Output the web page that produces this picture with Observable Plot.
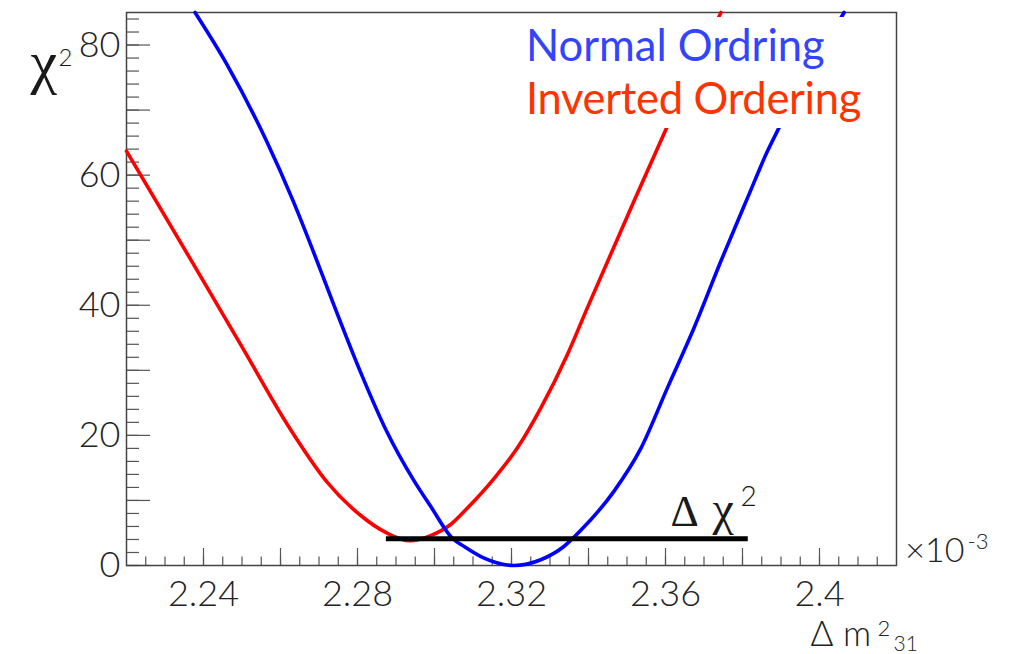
<!DOCTYPE html>
<html>
<head>
<meta charset="utf-8">
<script src="https://cdn.jsdelivr.net/npm/d3@7"></script>
<script src="https://cdn.jsdelivr.net/npm/@observablehq/plot@0.6"></script>
<style>
  body { margin: 0; background: #fff; }
  #chart { position: relative; width: 1010px; height: 654px; }
  #legend {
    position: absolute; left: 515px; top: 17px; width: 355px; height: 111px;
    background: #fff; font-family: Lato, "Open Sans", sans-serif; font-size: 43.5px; line-height: 1;
  }
  #legend div { position: absolute; left: 11px; white-space: nowrap; }
</style>
</head>
<body>
<div id="chart"><div id="legend">
  <div style="top:6.4px;color:#3344ff">Normal Ordring</div>
  <div style="top:59.4px;color:#ff3300;letter-spacing:-0.3px">Inverted Ordering</div>
</div></div>
<script>
// Δm²31 scan (in units of 1e-3 eV²) and χ² for each mass ordering
const noDm2 = [2.2378, 2.2460, 2.2564, 2.2633, 2.2685, 2.2735, 2.2806, 2.2876, 2.2945, 2.2990,
               2.3047, 2.3077, 2.3129, 2.3206, 2.3276, 2.3336, 2.3380, 2.3466, 2.3536, 2.3605,
               2.3674, 2.3744, 2.3813, 2.3865, 2.3895, 2.4064];
const noChi2 = [85, 77.1, 65.2, 56, 48.3, 40.6, 30.0, 20.6, 13.2, 9.1,
                4.15, 2.92, 1.12, 0, 0.88, 2.92, 5.4, 11.4, 18.0, 27.3,
                36.5, 46.8, 56.5, 63.7, 67.3, 85];

const ioDm2 = [2.2200, 2.2373, 2.2500, 2.2624, 2.2720, 2.2806, 2.2876, 2.2936, 2.2990, 2.3042,
               2.3085, 2.3155, 2.3215, 2.3276, 2.3345, 2.3397, 2.3518, 2.3601, 2.3744];
const ioChi2 = [63.7, 46.4, 33.6, 21.1, 12.9, 7.8, 5.0, 3.8, 4.6, 6.3,
                8.8, 13.4, 18.05, 24.2, 32.4, 39.6, 56, 67, 85];

// Δχ² between the two orderings, drawn as a horizontal bar
const barDm2 = [2.2875, 2.3815];
const barChi2 = 4.1;

// Axis ticks
const xLabelTicks = [2.24, 2.28, 2.32, 2.36, 2.40];
const xLongTicks = [2.24, 2.26, 2.28, 2.30, 2.32, 2.34, 2.36, 2.38, 2.40];
const xShortTicks = d3.range(2.225, 2.42, 0.005).map(v => +v.toFixed(3));
const yLabelTicks = [0, 20, 40, 60, 80];
const yLongTicks = [0, 10, 20, 30, 40, 50, 60, 70, 80];
const yShortTicks = d3.range(0, 85, 2);

const W = 1010, H = 654;
const mL = 126, mR = 114, mT = 12, mB = 89;
const plotW = W - mL - mR, plotH = H - mT - mB;

const sans = "Lato, 'Open Sans', sans-serif";
const serif = "'Liberation Serif', 'DejaVu Serif', serif";

const no = noDm2.map((x, i) => ({x, y: noChi2[i]}));
const io = ioDm2.map((x, i) => ({x, y: ioChi2[i]}));

// small helper for free-standing labels placed relative to the frame's top-left corner
const label = (s, dx, dy, o) => Plot.text([s], {text: d => d, frameAnchor: "top-left", dx, dy,
  lineAnchor: "bottom", textAnchor: "start", fill: "#1a1a1a", ...o});

const chart = Plot.plot({
  width: W, height: H,
  marginLeft: mL, marginRight: mR, marginTop: mT, marginBottom: mB,
  style: {fontFamily: sans, background: "#fff", color: "#222"},
  x: {domain: [2.22, 2.42], axis: null},
  y: {domain: [0, 85], axis: null},
  marks: [
    // inward ticks on the left and bottom axes
    Plot.tickY(yShortTicks, {y: d => d, insetRight: plotW - 13, stroke: "#555", strokeWidth: 1.2}),
    Plot.tickY(yLongTicks, {y: d => d, insetRight: plotW - 24, stroke: "#555", strokeWidth: 1.2}),
    Plot.tickX(xShortTicks, {x: d => d, insetTop: plotH - 8.5, stroke: "#555", strokeWidth: 1.2}),
    Plot.tickX(xLongTicks, {x: d => d, insetTop: plotH - 17, stroke: "#555", strokeWidth: 1.2}),
    Plot.axisY({ticks: yLabelTicks, tickSize: 0, tickPadding: 6, fontSize: 36, fontWeight: 300, label: null, fill: "#222"}),
    Plot.axisX({ticks: xLabelTicks, tickSize: 0, tickPadding: 15, fontSize: 36, fontWeight: 300, label: null, fill: "#222",
                tickFormat: d => d3.format(".2~f")(d)}),
    Plot.frame({stroke: "#444", strokeWidth: 1.5}),

    // χ² curves
    Plot.line(io, {x: "x", y: "y", stroke: "#ff0000", strokeWidth: 3.6, curve: "monotone-x"}),
    Plot.line(no, {x: "x", y: "y", stroke: "#0000ff", strokeWidth: 3.6, curve: "monotone-x"}),

    // Δχ² bar and its label
    Plot.ruleY([barChi2], {x1: barDm2[0], x2: barDm2[1], stroke: "#000", strokeWidth: 5}),
    label("Δ", 544, 513, {fontFamily: serif, fontSize: 44}),
    label("χ", 586, 512, {fontFamily: serif, fontSize: 48}),
    label("2", 614, 493, {fontWeight: 300, fontSize: 28}),

    // y-axis title
    label("χ", -96, 69, {fontFamily: serif, fontSize: 60}),
    label("2", -68, 53, {fontWeight: 300, fontSize: 24}),

    // x-axis exponent and title
    label("×10", 838, 549, {textAnchor: "end", fontWeight: 300, fontSize: 34, fill: "#222"}),
    label("-3", 841, 536, {fontWeight: 300, fontSize: 22, fill: "#222"}),
    label("Δ m", 684, 633, {fontWeight: 300, fontSize: 35, fill: "#222"}),
    label("2", 751, 623, {fontWeight: 300, fontSize: 22, fill: "#222"}),
    label("31", 767, 638, {fontWeight: 300, fontSize: 21, fill: "#222"})
  ]
});

document.getElementById("chart").insertBefore(chart, document.getElementById("legend"));
</script>
</body>
</html>
